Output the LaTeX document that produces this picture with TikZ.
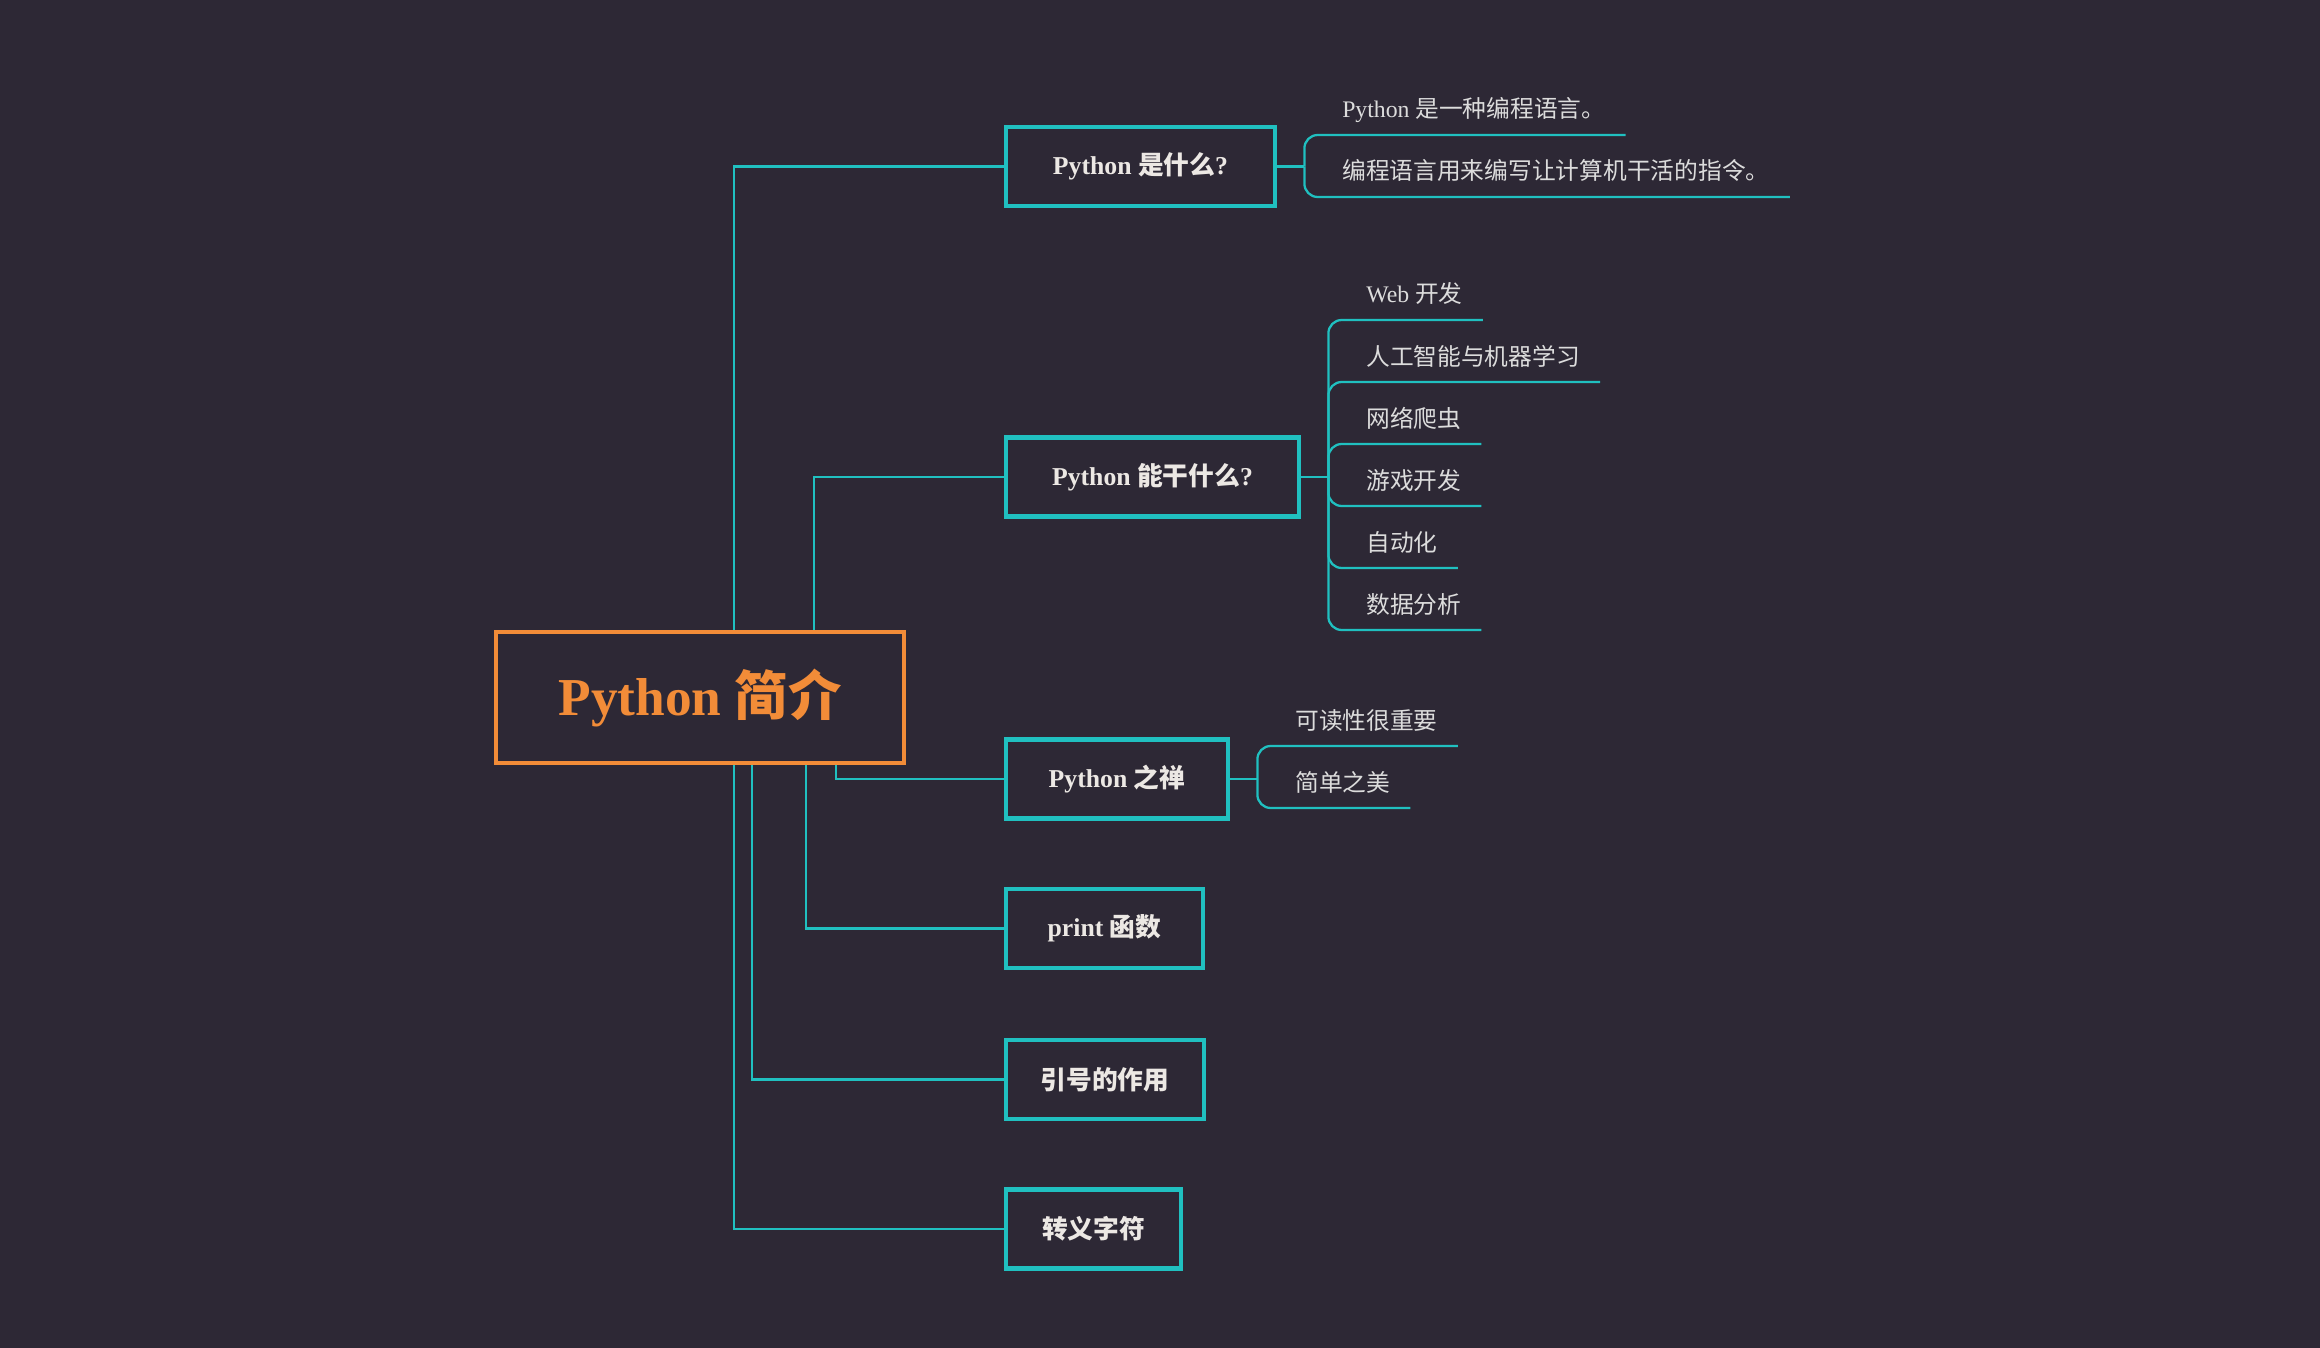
\documentclass[tikz,border=0pt]{standalone}
\usepackage{fontspec}
\setmainfont{Liberation Serif}
\newfontfamily\cjk{Noto Sans CJK SC}
\definecolor{bg}{HTML}{2D2835}
\definecolor{mmteal}{HTML}{20C0C0}
\definecolor{mmorange}{HTML}{F28C38}
\definecolor{boxtext}{HTML}{ECE8E4}
\definecolor{leaftext}{HTML}{DCDCDC}
\begin{document}
\begin{tikzpicture}[x=0.75pt,y=-0.75pt,
  mainbox/.style={draw=mmorange,line width=3.4pt,minimum width=306pt,minimum height=98.25pt,inner sep=0pt,text=mmorange,font=\fontsize{40}{48}\selectfont\bfseries},
  box/.style={draw=mmteal,line width=3.6pt,minimum height=59.25pt,inner sep=0pt,text=boxtext,font=\fontsize{19.3}{23}\selectfont\bfseries},
  leaf/.style={anchor=base west,inner xsep=15pt,inner ysep=0pt,text=leaftext,font=\fontsize{17.8}{21}\selectfont},
  link/.style={draw=mmteal,line width=1.7pt},
  bracket/.style={link,rounded corners=10pt}]
\path[fill=bg] (0,0) rectangle (2320,1348);
\useasboundingbox (0,0) rectangle (2320,1348);

% main and branch nodes
\node[mainbox] (c) at (700,697.5) {Python {\cjk 简介}};
\node[box,minimum width=201.75pt] (b1) at (1140.5,166.5) {Python {\cjk 是什么}?};
\node[box,minimum width=219.75pt] (b2) at (1152.5,477) {Python {\cjk 能干什么}?};
\node[box,minimum width=166.5pt] (b3) at (1117,779) {Python {\cjk 之禅}};
\node[box,minimum width=147.75pt] (b4) at (1104.5,928.5) {print {\cjk 函数}};
\node[box,minimum width=148.5pt] (b5) at (1105,1079.5) {\cjk 引号的作用};
\node[box,minimum width=131.25pt] (b6) at (1093.5,1229) {\cjk 转义字符};

% connectors from the main node
\draw[link] ([xshift=25.5pt]c.north) |- (b1.west);
\draw[link] ([xshift=85.5pt]c.north) |- (b2.west);
\draw[link] ([xshift=102pt]c.south) |- (b3.west);
\draw[link] ([xshift=79.5pt]c.south) |- (b4.west);
\draw[link] ([xshift=39pt]c.south) |- (b5.west);
\draw[link] ([xshift=25.5pt]c.south) |- (b6.west);

% leaves of b1
\coordinate (s1) at ([xshift=20.25pt]b1.east);
\draw[link] (b1.east) -- (s1);
\node[leaf] (l11) at (1322,118) {Python {\cjk 是一种编程语言。}};
\node[leaf] (l12) at (1322,180) {\cjk 编程语言用来编写让计算机干活的指令。};
\draw[bracket] (s1) |- ([yshift=-12.75pt]l11.base east);
\draw[bracket] (s1) |- ([yshift=-12.75pt]l12.base east);

% leaves of b2
\coordinate (s2) at ([xshift=20.25pt]b2.east);
\draw[link] (b2.east) -- (s2);
\node[leaf] (l21) at (1346,303) {Web {\cjk 开发}};
\node[leaf] (l22) at (1346,365) {\cjk 人工智能与机器学习};
\node[leaf] (l23) at (1346,427) {\cjk 网络爬虫};
\node[leaf] (l24) at (1346,489) {\cjk 游戏开发};
\node[leaf] (l25) at (1346,551) {\cjk 自动化};
\node[leaf] (l26) at (1346,613) {\cjk 数据分析};
\foreach \n in {l21,l22,l23,l24,l25,l26}
  \draw[bracket] (s2) |- ([yshift=-12.75pt]\n.base east);

% leaves of b3
\coordinate (s3) at ([xshift=20.25pt]b3.east);
\draw[link] (b3.east) -- (s3);
\node[leaf] (l31) at (1275,729) {\cjk 可读性很重要};
\node[leaf] (l32) at (1275,791) {\cjk 简单之美};
\draw[bracket] (s3) |- ([yshift=-12.75pt]l31.base east);
\draw[bracket] (s3) |- ([yshift=-12.75pt]l32.base east);
\end{tikzpicture}
\end{document}
